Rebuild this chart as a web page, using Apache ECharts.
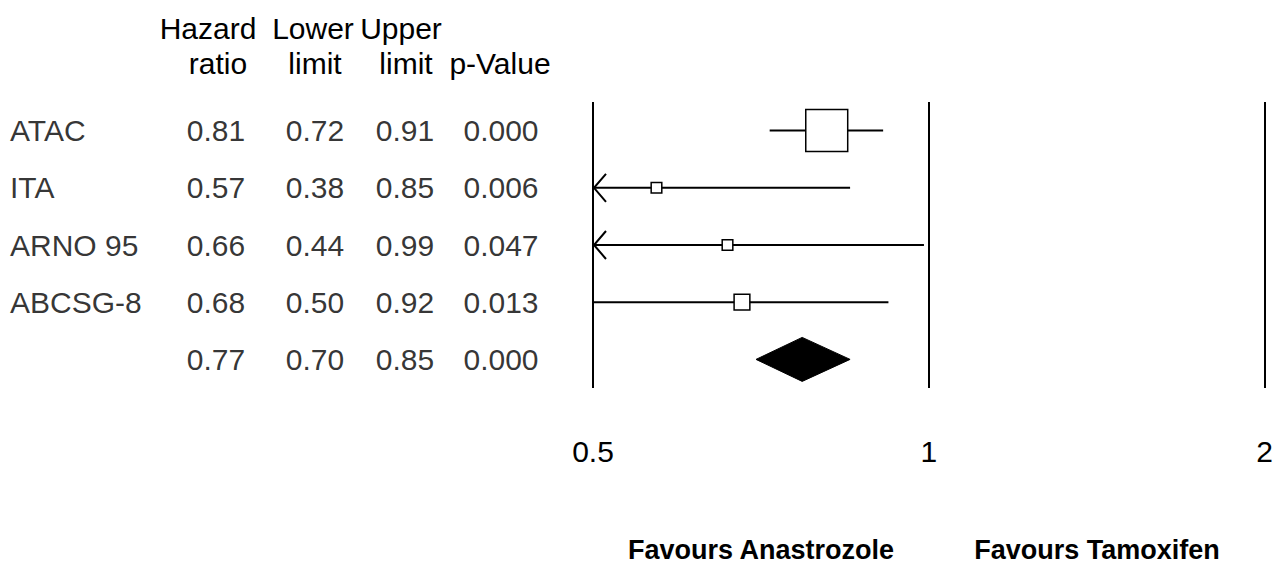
<!DOCTYPE html>
<html><head><meta charset="utf-8">
<script src="https://cdn.jsdelivr.net/npm/echarts@6/dist/echarts.min.js"></script>
<style>html,body{margin:0;padding:0;background:#fff}#c{width:1276px;height:581px}</style>
</head><body><div id="c"></div>
<script>
// ---- data ----
const studies = ['ATAC', 'ITA', 'ARNO 95', 'ABCSG-8', ''];
const hazardRatio = [0.81, 0.57, 0.66, 0.68, 0.77];
const lowerLimit = [0.72, 0.38, 0.44, 0.50, 0.70];
const upperLimit = [0.91, 0.85, 0.99, 0.92, 0.85];
const pValues = ['0.000', '0.006', '0.047', '0.013', '0.000'];
const weightPct = [78, 5, 5, 11];           // relative study weights (box area)
const xTicks = [0.5, 1, 2];
const headerTop = ['Hazard', 'Lower', 'Upper'];
const headerBottom = ['ratio', 'limit', 'limit', 'p-Value'];
const favourLabels = ['Favours Anastrozole', 'Favours Tamoxifen'];

// ---- layout / style ----
const FONT = '"Liberation Sans", Arial, Helvetica, sans-serif';
const FS = 30;
const nStudies = weightPct.length;
const rowIdx = studies.map((_, i) => i + 1);
const colX = { name: 10, hr: 216, lo: 315, hi: 405, p: 501 };
const X_MIN = xTicks[0];

const chart = echarts.init(document.getElementById('c'), null, { renderer: 'svg' });

function textSeries(x, texts, align) {
  return {
    type: 'scatter', xAxisIndex: 1, yAxisIndex: 1, clip: false,
    symbolSize: 1, itemStyle: { color: 'rgba(0,0,0,0)' }, silent: true,
    data: texts.map((t, i) => ({ value: [x, rowIdx[i]], txt: t })),
    label: {
      show: true, position: 'inside', align: align, verticalAlign: 'middle',
      formatter: p => p.data.txt, color: '#000', fontSize: FS, fontFamily: FONT
    }
  };
}

const ciData = rowIdx.slice(0, nStudies).map((r, i) => [lowerLimit[i], upperLimit[i], r]);
const boxData = rowIdx.slice(0, nStudies).map((r, i) => [hazardRatio[i], r, weightPct[i]]);
const diamondData = [[hazardRatio[nStudies], lowerLimit[nStudies], upperLimit[nStudies], rowIdx[nStudies]]];

const option = {
  animation: false,
  backgroundColor: '#fff',
  grid: [
    { left: 593, right: 11, top: 102, height: 286 },
    { left: 0, width: 593, top: 102, height: 286 }
  ],
  xAxis: [
    {
      type: 'log', logBase: 2, min: 0.5, max: 2, gridIndex: 0,
      axisLine: { show: false }, axisTick: { show: false },
      splitLine: { show: true, showMinLine: true, showMaxLine: true, lineStyle: { color: '#000', width: 2 } },
      axisLabel: {
        show: true, margin: 48, color: '#000', fontSize: FS, fontFamily: FONT,
        formatter: v => { const t = xTicks.find(k => Math.abs(k - v) < 1e-9); return t === undefined ? '' : String(t); }
      }
    },
    { type: 'value', gridIndex: 1, min: 0, max: 593, show: false }
  ],
  yAxis: [
    { type: 'value', gridIndex: 0, min: 0.5, max: 5.5, inverse: true, show: false },
    { type: 'value', gridIndex: 1, min: 0.5, max: 5.5, inverse: true, show: false }
  ],
  graphic: [
    ...headerTop.map((t, i) => ({
      type: 'text', x: [208, 313, 401][i], y: 28, silent: true,
      style: { text: t, fill: '#000', font: FS + 'px ' + FONT, textAlign: 'center', textVerticalAlign: 'middle' }
    })),
    ...headerBottom.map((t, i) => ({
      type: 'text', x: [218, 315, 406, 500][i], y: 63, silent: true,
      style: { text: t, fill: '#000', font: FS + 'px ' + FONT, textAlign: 'center', textVerticalAlign: 'middle' }
    })),
    ...favourLabels.map((t, i) => ({
      type: 'text', x: [761, 1097][i], y: 550, silent: true,
      style: { text: t, fill: '#000', font: 'bold 27px ' + FONT, textAlign: 'center', textVerticalAlign: 'middle' }
    }))
  ],
  series: [
    {
      type: 'custom', xAxisIndex: 0, yAxisIndex: 0, clip: false, silent: true,
      data: ciData,
      renderItem: (params, api) => {
        const lo = api.value(0), hi = api.value(1), row = api.value(2);
        const p1 = api.coord([Math.max(lo, X_MIN), row]);
        const p2 = api.coord([hi, row]);
        const children = [{
          type: 'line', shape: { x1: p1[0], y1: p1[1], x2: p2[0], y2: p2[1] },
          style: { stroke: '#000', lineWidth: 2 }
        }];
        if (lo < X_MIN) {
          children.push({
            type: 'polyline',
            shape: { points: [[p1[0] + 13, p1[1] - 14], [p1[0] + 1, p1[1]], [p1[0] + 13, p1[1] + 14]] },
            style: { stroke: '#000', lineWidth: 2, fill: null }
          });
        }
        return { type: 'group', children };
      }
    },
    {
      type: 'custom', xAxisIndex: 0, yAxisIndex: 0, clip: false, silent: true,
      data: boxData,
      renderItem: (params, api) => {
        const c = api.coord([api.value(0), api.value(1)]);
        const s = Math.sqrt(api.value(2)) * 4.75;
        return {
          type: 'rect', shape: { x: c[0] - s / 2, y: c[1] - s / 2, width: s, height: s },
          style: { fill: '#fff', stroke: '#000', lineWidth: 1.5 }
        };
      }
    },
    {
      type: 'custom', xAxisIndex: 0, yAxisIndex: 0, clip: false, silent: true,
      data: diamondData,
      renderItem: (params, api) => {
        const hr = api.value(0), lo = api.value(1), hi = api.value(2), row = api.value(3);
        const c = api.coord([hr, row]), l = api.coord([lo, row]), h = api.coord([hi, row]);
        const d = 22;
        return {
          type: 'polygon',
          shape: { points: [[l[0], l[1]], [c[0], c[1] - d], [h[0], h[1]], [c[0], c[1] + d]] },
          style: { fill: '#000', stroke: '#000', lineWidth: 1 }
        };
      }
    },
    textSeries(colX.name, studies, 'left'),
    textSeries(colX.hr, hazardRatio.map(v => v.toFixed(2)), 'center'),
    textSeries(colX.lo, lowerLimit.map(v => v.toFixed(2)), 'center'),
    textSeries(colX.hi, upperLimit.map(v => v.toFixed(2)), 'center'),
    textSeries(colX.p, pValues, 'center')
  ]
};
chart.setOption(option);
</script>
</body></html>
